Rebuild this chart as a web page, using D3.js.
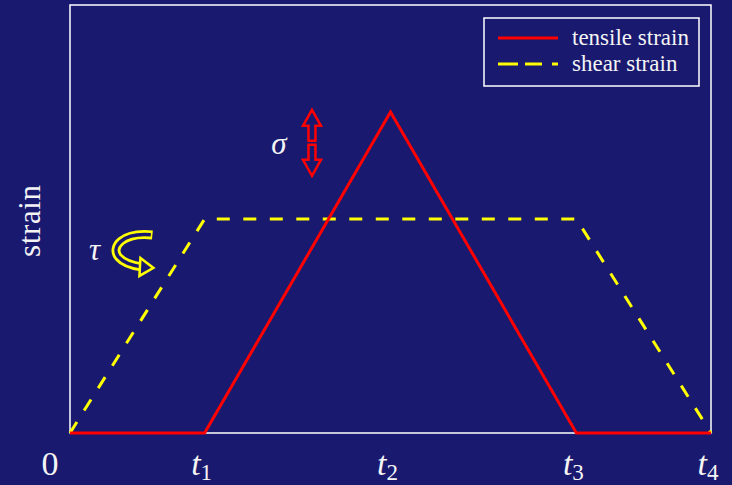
<!DOCTYPE html>
<html>
<head>
<meta charset="utf-8">
<script src="https://cdn.jsdelivr.net/npm/d3@7"></script>
<style>
  html, body { margin: 0; padding: 0; background: #191970; }
  svg { display: block; }
  text { font-family: "Liberation Serif", "Times New Roman", serif; fill: #f4f4f4; }
</style>
</head>
<body>
<svg id="chart" width="732" height="485"></svg>
<script>
// Time axis (normalised) and tick labels
const tickValues = [0, 0.21, 0.5, 0.79, 1];
const tickLabels = ["0", "t1", "t2", "t3", "t4"];

// Tensile strain: zero, ramp up to a peak at t2, back to zero at t3
const tensileT = [0, 0.21, 0.5, 0.79, 1];
const tensileS = [0, 0, 0.75, 0, 0];

// Shear strain: ramp up to t1, hold until t3, ramp down to t4
const shearT = [0, 0.21, 0.79, 1];
const shearS = [0, 0.5, 0.5, 0];

const seriesNames = ["tensile strain", "shear strain"];
const seriesColors = ["#ff0000", "#ffff00"];

const W = 732, H = 485;
const margin = { left: 70, right: 21, top: 5, bottom: 52 };
const bg = "#191970";

const svg = d3.select("#chart");
svg.append("rect").attr("width", W).attr("height", H).attr("fill", bg);

const x = d3.scaleLinear().domain([0, 1]).range([margin.left, W - margin.right]);
const y = d3.scaleLinear().domain([0, 1]).range([H - margin.bottom, margin.top]);

// Plot frame
svg.append("rect")
  .attr("x", x(0)).attr("y", y(1))
  .attr("width", x(1) - x(0)).attr("height", y(0) - y(1))
  .attr("fill", "none").attr("stroke", "#ffffff").attr("stroke-width", 1.5);

// X axis (labels only, no tick marks)
const xAxis = d3.axisBottom(x).tickValues(tickValues).tickSize(0).tickFormat("");
const gx = svg.append("g").attr("transform", `translate(0,${y(0)})`).call(xAxis);
gx.select(".domain").remove();

tickValues.forEach((v, i) => {
  const lab = tickLabels[i];
  const t = svg.append("text")
    .attr("y", 475)
    .attr("font-size", 34);
  if (lab === "0") {
    t.attr("x", x(v) - 20).attr("text-anchor", "middle").text("0");
  } else {
    t.attr("x", x(v) - 3).attr("text-anchor", "middle");
    t.append("tspan").attr("font-style", "italic").text(lab[0]);
    t.append("tspan").attr("font-size", 23).attr("dy", 5).text(lab.slice(1));
  }
});

// Y axis label
svg.append("text")
  .attr("transform", `translate(40,${(y(0) + y(1)) / 2 + 2}) rotate(-90)`)
  .attr("text-anchor", "middle")
  .attr("font-size", 31)
  .attr("textLength", 72)
  .text("strain");

const line = d3.line().x(d => x(d[0])).y(d => y(d[1]));

// Shear strain (dashed yellow)
svg.append("path")
  .datum(d3.zip(shearT, shearS))
  .attr("d", line)
  .attr("fill", "none")
  .attr("stroke", seriesColors[1])
  .attr("stroke-width", 3)
  .attr("stroke-dasharray", "13,13.5");

// Tensile strain (solid red)
svg.append("path")
  .datum(d3.zip(tensileT, tensileS))
  .attr("d", line)
  .attr("fill", "none")
  .attr("stroke", seriesColors[0])
  .attr("stroke-width", 3)
  .attr("stroke-linejoin", "miter");

// Normal stress symbol with a hollow double arrow
const sx = x(0.3775), sy = y(0.678);
svg.append("text")
  .attr("x", sx - 33).attr("y", sy + 11)
  .attr("font-size", 31).attr("font-style", "italic")
  .attr("text-anchor", "middle")
  .text("σ");
const upArrow = [[0, -33], [9, -17], [3.5, -17], [3.5, -2], [-3.5, -2], [-3.5, -17], [-9, -17]];
const downArrow = upArrow.map(p => [p[0], -p[1]]);
[upArrow, downArrow].forEach(pts => {
  svg.append("polygon")
    .attr("points", pts.map(p => [sx + p[0], sy + p[1]].join(",")).join(" "))
    .attr("fill", bg)
    .attr("stroke", seriesColors[0])
    .attr("stroke-width", 2.5)
    .attr("stroke-linejoin", "miter");
});

// Shear stress symbol with a hollow curled arrow
const tx = x(0.035), ty = y(0.43);
svg.append("text")
  .attr("x", tx + 2).attr("y", ty + 11)
  .attr("font-size", 31).attr("font-style", "italic")
  .attr("text-anchor", "middle")
  .text("τ");
const curl = `M${tx + 60},${ty - 14} C${tx + 30},${ty - 17} ${tx + 18},${ty - 2} ${tx + 26},${ty + 8} C${tx + 32},${ty + 15} ${tx + 42},${ty + 17} ${tx + 50},${ty + 18}`;
svg.append("path").attr("d", curl)
  .attr("fill", "none").attr("stroke", seriesColors[1]).attr("stroke-width", 9);
svg.append("path").attr("d", curl)
  .attr("fill", "none").attr("stroke", bg).attr("stroke-width", 3.5)
  .attr("stroke-dasharray", "0.1,1.4,1000");
svg.append("polygon")
  .attr("points", [[tx + 48, ty + 9], [tx + 61, ty + 19], [tx + 47, ty + 27]].map(p => p.join(",")).join(" "))
  .attr("fill", bg)
  .attr("stroke", seriesColors[1])
  .attr("stroke-width", 2.5)
  .attr("stroke-linejoin", "miter");

// Legend
const lg = svg.append("g").attr("transform", "translate(484,18)");
lg.append("rect")
  .attr("width", 215).attr("height", 68)
  .attr("fill", bg).attr("stroke", "#ffffff").attr("stroke-width", 1.5);
seriesNames.forEach((name, i) => {
  const ly = 20 + i * 26;
  lg.append("line")
    .attr("x1", 14).attr("x2", 74).attr("y1", ly).attr("y2", ly)
    .attr("stroke", seriesColors[i]).attr("stroke-width", 3)
    .attr("stroke-dasharray", i === 1 ? "20,7,17,10,7" : null);
  lg.append("text")
    .attr("x", 88).attr("y", ly + 7)
    .attr("font-size", 23)
    .text(name);
});
</script>
</body>
</html>
